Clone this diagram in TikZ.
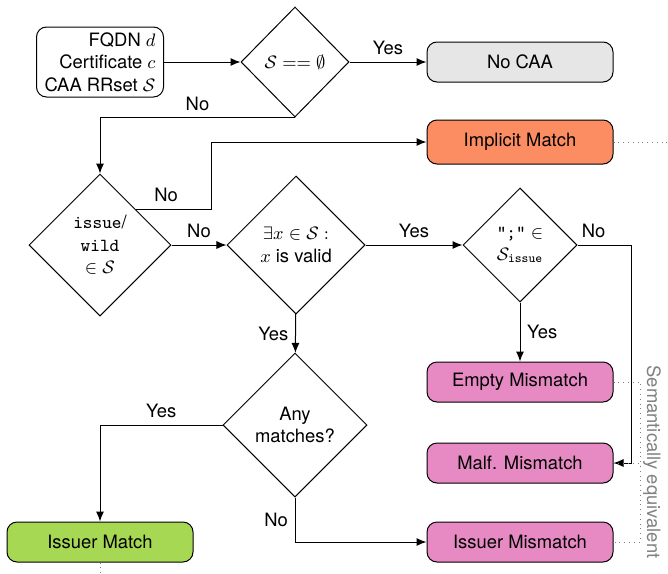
\documentclass[tikz,border=0pt]{standalone}
\usepackage{amsmath}
\usepackage{fontspec}
\setmainfont{TeX Gyre Heros}
\usetikzlibrary{shapes.geometric, arrows.meta}

\definecolor{caaGray}{HTML}{E6E6E6}
\definecolor{caaOrange}{HTML}{FC8D62}
\definecolor{caaGreen}{HTML}{A6D854}
\definecolor{caaPink}{HTML}{E78AC3}

\begin{document}
\begin{tikzpicture}[x=0.5pt, y=-0.5pt, >={Latex[length=5pt, width=4pt]},
    line width=0.5pt,
    every node/.style={font=\fontsize{9.2}{11.2}\selectfont},
    result/.style={draw, rounded corners=5pt, minimum width=93pt,
        minimum height=20pt, inner sep=0pt},
    decision/.style={draw, diamond, aspect=1, inner sep=0pt, align=center},
    equiv/.style={gray, dotted, line width=0.4pt}]
\useasboundingbox (0, 0) rectangle (668, 573);

% Draw input.
\node[draw, rounded corners=5pt, align=right, minimum width=63.5pt,
    minimum height=35pt, inner sep=2pt] (input) at (100, 62)
    {FQDN $d$\\Certificate $c$\\CAA RRset $\mathcal{S}$};

% Draw decisions.
\node[decision, minimum width=54pt, minimum height=55pt] (empty) at (295, 62)
    {$\mathcal{S} == \emptyset$};
\node[decision, minimum size=71pt] (issue) at (100, 245)
    {\texttt{issue}/\\\texttt{wild}\\$\in\mathcal{S}$};
\node[decision, minimum size=69pt] (valid) at (296, 245)
    {$\exists x\in\mathcal{S}:$\\$x$ is valid};
\node[decision, minimum size=57pt] (semi) at (520, 245)
    {\texttt{";"} $\in$\\$\mathcal{S}_{\texttt{issue}}$};
\node[decision, minimum size=72pt] (any) at (295, 425) {Any\\matches?};

% Draw results.
\node[result, fill=caaGray] (nocaa) at (520, 62) {No CAA};
\node[result, fill=caaOrange, minimum height=22pt] (implicit) at (520, 142)
    {Implicit Match};
\node[result, fill=caaPink] (emptymis) at (520, 382) {Empty Mismatch};
\node[result, fill=caaPink] (malfmis) at (520, 463) {Malf. Mismatch};
\node[result, fill=caaPink] (issuermis) at (520, 542) {Issuer Mismatch};
\node[result, fill=caaGreen] (issuermatch) at (100, 542) {Issuer Match};

% Draw connectors.
\draw[->] (input) -- (empty);
\draw[->] (empty) -- node[above] (yesnocaa) {Yes} (nocaa);
\draw[->] (empty.south) -| node[pos=0.25, above] (noempty) {No} (issue.north);
\draw[->] (issue.north east) -- node[above, pos=0.4] (noimplicit) {No}
    ++(76, 0) |- (implicit);
\draw[->] (issue) -- node[above] (noissue) {No} (valid);
\draw[->] (valid) -- node[above] (yesvalid) {Yes} (semi);
\draw[->] (semi.east) -- node[above, pos=0.3] (nosemi) {No}
    ++(54, 0) |- (malfmis);
\draw[->] (semi) -- node[right] (yessemi) {Yes} (emptymis);
\draw[->] (valid) -- node[left] (yesany) {Yes} (any);
\draw[->] (any.west) -| node[pos=0.25, above] (yesmatch) {Yes} (issuermatch);
\draw[->] (any.south) |- node[pos=0.25, left] (nomatch) {No} (issuermis);

% Draw equivalences.
\coordinate (implicitend) at (668, 142);
\coordinate (matchend) at (100, 573);
\coordinate (eqtop) at (640, 382);
\coordinate (eqbot) at (640, 542);
\draw[equiv] (implicit) -- (implicitend);
\draw[equiv] (issuermatch) -- (matchend);
\draw[equiv] (emptymis) -- (eqtop) -- (eqbot) -- (issuermis);
\draw[equiv] (malfmis) -- (malfmis -| eqtop);
\node[gray, rotate=-90] (equivlabel) at (652, 462) {Semantically equivalent};

\end{tikzpicture}
\end{document}
